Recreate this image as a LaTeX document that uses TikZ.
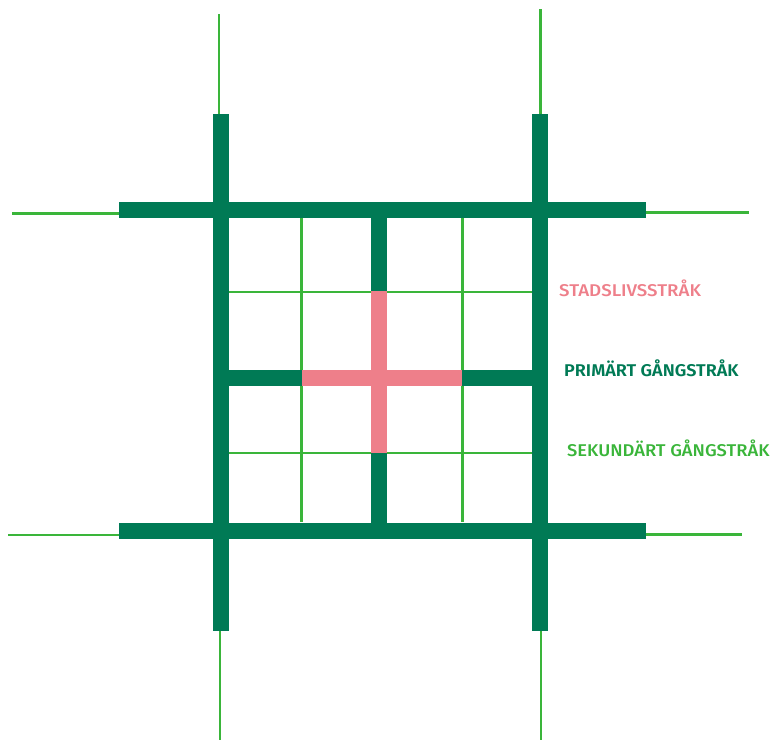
\documentclass[tikz,border=0pt]{standalone}
\usepackage{fontspec}
\setmainfont{Fira Sans}
\newfontfamily\stadfont[FakeStretch=1.10]{Fira Sans Medium}
\newfontfamily\sekfont[FakeStretch=1.08]{Fira Sans Medium}
\newfontfamily\primfont[FakeStretch=1.06]{Fira Sans SemiBold}
\definecolor{dkgreen}{HTML}{007A55}
\definecolor{ltgreen}{HTML}{3AB53A}
\definecolor{pinkc}{HTML}{EE7F8A}
\begin{document}
\begin{tikzpicture}[x=1pt,y=-1pt,
  thin/.style={draw=ltgreen,line width=2.2pt},
  thick/.style={draw=dkgreen,line width=16pt},
  pinkline/.style={draw=pinkc,line width=16pt},
  lbl/.style={anchor=west,inner sep=0pt}]
\useasboundingbox (0,0) rectangle (772,740);
% outer thin lines
\draw[thin] (219,14) -- (219,114);
\draw[thin] (540.5,9) -- (540.5,114);
\draw[thin] (220,631) -- (220,740);
\draw[thin] (541,631) -- (541,740);
\draw[thin] (12,213.5) -- (119,213.5);
\draw[thin] (645,212.5) -- (749,212.5);
\draw[thin] (8,535) -- (119,535);
\draw[thin] (645,534.5) -- (742,534.5);
% inner thin grid
\draw[thin] (301.5,218) -- (301.5,522);
\draw[thin] (462.5,218) -- (462.5,522);
\draw[thin] (229,292) -- (532,292);
\draw[thin] (229,453) -- (532,453);
% thick primary lines
\draw[thick] (220.5,114) -- (220.5,631);
\draw[thick] (540.3,114) -- (540.3,631);
\draw[thick] (119,210) -- (645.5,210);
\draw[thick] (119,530.7) -- (645.5,530.7);
\draw[thick] (379,218) -- (379,523);
\draw[thick] (229,378) -- (532,378);
% pink
\draw[pinkline] (379,291.3) -- (379,452.7);
\draw[pinkline] (302.3,378) -- (462.3,378);
% labels
\node[lbl,text=pinkc,font=\stadfont\fontsize{17}{19}\selectfont] (stad) at (559,288.5) {STADSLIVSSTRÅK};
\node[lbl,text=dkgreen,font=\primfont\fontsize{17}{19}\selectfont] (prim) at (564,368) {PRIMÄRT GÅNGSTRÅK};
\node[lbl,text=ltgreen,font=\sekfont\fontsize{17}{19}\selectfont] (sek) at (567,448.5) {SEKUNDÄRT GÅNGSTRÅK};
\end{tikzpicture}
\end{document}
